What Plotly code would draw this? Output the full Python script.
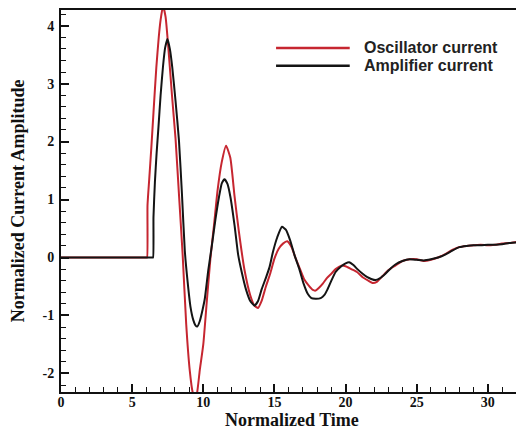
import plotly.graph_objects as go

# ---- data ----
osc_t = [0, 1, 2, 3, 4, 5, 5.5, 5.8, 5.95, 6.0, 6.05, 6.08, 6.2, 6.35, 6.5, 6.7, 6.87, 7.0, 7.17,
         7.35, 7.55, 7.8, 8.05, 8.3, 8.55, 8.8, 9.05, 9.25, 9.4, 9.55, 9.75, 10.0, 10.25, 10.5,
         10.75, 11.0, 11.3, 11.6, 11.9, 12.2, 12.5, 12.9, 13.3, 13.6, 13.85, 14.1, 14.4, 14.7,
         15.0, 15.3, 15.6, 15.9, 16.2, 16.5, 16.8, 17.1, 17.4, 17.7, 17.9, 18.1, 18.4, 18.7,
         19.0, 19.3, 19.7, 20.0, 20.4, 20.8, 21.2, 21.6, 21.9, 22.2, 22.6, 23.0, 23.5, 24.0,
         24.5, 25.0, 25.5, 26.0, 26.5, 27.0, 27.5, 28.0, 28.5, 29.0, 29.5, 30.0, 30.5, 31.0,
         31.5, 32.0, 32.4]
osc_i = [0, 0, 0, 0, 0, 0, 0, 0, 0, 0, 0, 0.9, 1.35, 1.9, 2.5, 3.28, 3.8, 4.1, 4.34,
         4.15, 3.6, 2.8, 2.05, 1.05, 0.05, -1.15, -1.95, -2.32, -2.42, -2.35, -1.95, -1.5, -0.75, -0.02,
         0.55, 1.15, 1.65, 1.93, 1.72, 1.05, 0.45, -0.22, -0.65, -0.83, -0.87, -0.75, -0.5, -0.28,
         -0.02, 0.15, 0.24, 0.28, 0.18, -0.02, -0.2, -0.38, -0.48, -0.56, -0.57, -0.53, -0.45, -0.35,
         -0.28, -0.2, -0.14, -0.15, -0.2, -0.25, -0.34, -0.4, -0.44, -0.42, -0.32, -0.22, -0.14, -0.06,
         -0.03, -0.03, -0.06, -0.04, 0.0, 0.06, 0.13, 0.18, 0.2, 0.21, 0.22, 0.21, 0.22, 0.24,
         0.25, 0.27, 0.28]

amp_t = [0, 1, 2, 3, 4, 5, 5.5, 6.0, 6.3, 6.42, 6.47, 6.5, 6.6, 6.72, 6.85, 7.0, 7.17, 7.32, 7.48,
         7.65, 7.82, 8.05, 8.29, 8.5, 8.7, 8.9, 9.1, 9.3, 9.45, 9.58, 9.75, 9.95, 10.1, 10.35,
         10.6, 10.85, 11.1, 11.3, 11.49, 11.7, 11.91, 12.2, 12.45, 12.7, 13.0, 13.3, 13.6, 13.85,
         14.1, 14.4, 14.65, 14.9, 15.2, 15.53, 15.8, 16.1, 16.4, 16.75, 17.05, 17.35, 17.6, 17.9,
         18.25, 18.5, 18.73, 19.0, 19.3, 19.7, 20.0, 20.25, 20.55, 20.83, 21.2, 21.53, 21.8, 22.1,
         22.4, 22.8, 23.2, 23.5, 24.0, 24.5, 25.0, 25.5, 26.0, 26.5, 27.0, 27.5, 28.0, 28.5,
         29.0, 29.5, 30.0, 30.5, 31.0, 31.5, 32.0, 32.4]
amp_i = [0, 0, 0, 0, 0, 0, 0, 0, 0, 0, 0, 0.7, 1.3, 1.8, 2.25, 2.8, 3.3, 3.62, 3.77,
         3.6, 3.28, 2.7, 2.02, 1.1, 0.12, -0.42, -0.85, -1.08, -1.17, -1.19, -1.1, -0.9, -0.72, -0.22,
         0.2, 0.65, 1.04, 1.28, 1.35, 1.27, 1.04, 0.55, 0.05, -0.25, -0.55, -0.75, -0.83, -0.75,
         -0.55, -0.35, -0.17, 0.1, 0.35, 0.53, 0.48, 0.3, 0.05, -0.2, -0.45, -0.63, -0.7, -0.71,
         -0.7, -0.65, -0.55, -0.4, -0.25, -0.15, -0.1, -0.08, -0.13, -0.2, -0.28, -0.34, -0.37, -0.39,
         -0.36, -0.28, -0.18, -0.12, -0.06, -0.03, -0.04, -0.05, -0.03, 0.0, 0.05, 0.12, 0.18, 0.2,
         0.21, 0.21, 0.22, 0.22, 0.23, 0.25, 0.26, 0.28]

x_ticks = [0, 5, 10, 15, 20, 25, 30]
x_labels = ["0", "5", "10", "15", "20", "25", "30"]
y_ticks = [-2, -1, 0, 1, 2, 3, 4]
y_labels = ["-2", "-1", "0", "1", "2", "3", "4"]

series_names = ["Oscillator current", "Amplifier current"]
RED = "#c62630"
BLACK = "#141414"

fig = go.Figure()
fig.add_trace(go.Scatter(x=osc_t, y=osc_i, mode="lines", name=series_names[0],
                         line=dict(color=RED, width=2, shape="spline", smoothing=0.5)))
fig.add_trace(go.Scatter(x=amp_t, y=amp_i, mode="lines", name=series_names[1],
                         line=dict(color=BLACK, width=2, shape="spline", smoothing=0.5)))

serif = "Liberation Serif, Times New Roman, serif"
axis_common = dict(showgrid=False, zeroline=False, showline=True, linecolor="#111",
                   linewidth=2, ticks="inside", tickcolor="#111", tickwidth=1.5, ticklen=8,
                   tickfont=dict(family=serif, size=14, color="#111", weight="bold"),
                   mirror=True)

fig.update_xaxes(range=[0, 32.4], tickvals=x_ticks, ticktext=x_labels,
                 ticklabelstandoff=-4,
                 minor=dict(ticks="inside", dtick=1, ticklen=5, tickwidth=1.2, tickcolor="#111"),
                 **axis_common)
fig.update_yaxes(range=[-2.32, 4.27], tickvals=y_ticks, ticktext=y_labels,
                 ticklabelstandoff=2,
                 minor=dict(ticks="inside", dtick=0.2, tick0=0, ticklen=5, tickwidth=1.2, tickcolor="#111"),
                 **axis_common)

# legend drawn manually to match the long line samples of the reference
leg_font = dict(family="Liberation Sans, Arial, sans-serif", size=16, color="#222", weight="bold")
for name, col, yp in [(series_names[0], RED, 0.9008), (series_names[1], BLACK, 0.8538)]:
    fig.add_shape(type="line", xref="paper", yref="paper", x0=0.4665, x1=0.6263, y0=yp, y1=yp,
                  line=dict(color=col, width=2.5))
    fig.add_annotation(text=name, xref="paper", yref="paper", x=0.654, y=yp, xanchor="left",
                       yanchor="middle", showarrow=False, font=leg_font)

title_font = dict(family=serif, size=18, color="#111", weight="bold")
fig.add_annotation(text="Normalized Time", xref="paper", yref="paper", x=0.5, y=-0.074,
                   xanchor="center", yanchor="middle", showarrow=False, font=title_font)
fig.add_annotation(text="Normalized Current Amplitude", xref="paper", yref="paper", x=-0.0929, y=0.5,
                   xanchor="center", yanchor="middle", textangle=-90, showarrow=False, font=title_font)

fig.update_layout(width=516, height=425, margin=dict(l=53, r=0, t=1, b=41),
                  plot_bgcolor="white", paper_bgcolor="white", showlegend=False)

fig.write_html("out.html")
